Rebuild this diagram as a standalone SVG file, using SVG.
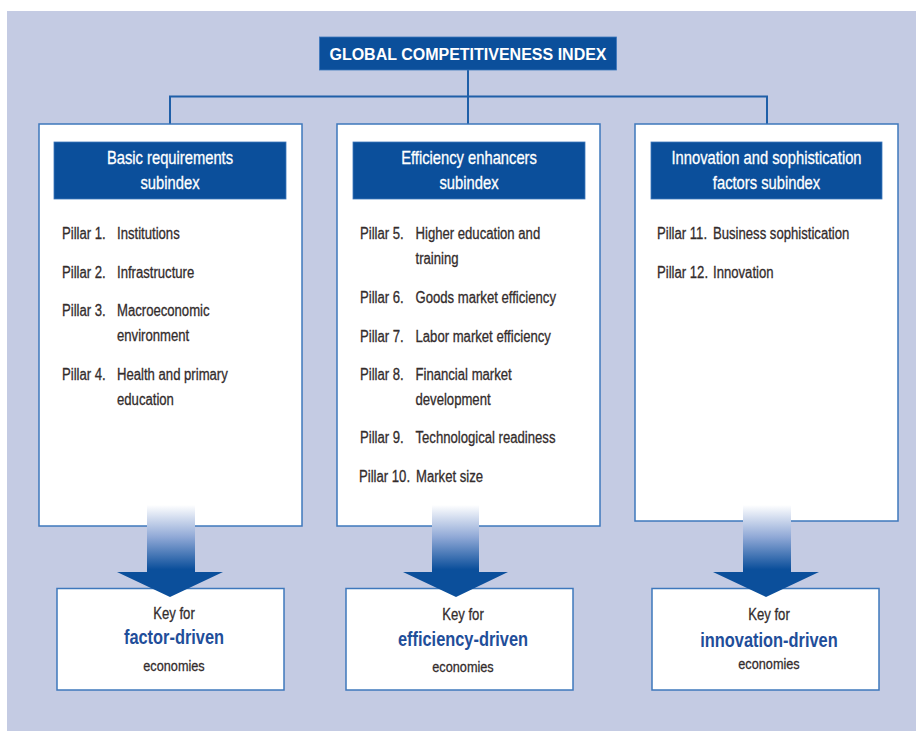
<svg xmlns="http://www.w3.org/2000/svg" width="916" height="731" viewBox="0 0 916 731">
<style>
  .bg{fill:#C4CBE3}
  .box{fill:#FFFFFF;stroke:#3E78BC;stroke-width:1.5}
  .hdr{fill:#0B4F9B;stroke:#3E78BC;stroke-width:0.8}
  .title{font-family:"Liberation Sans",Arial,sans-serif;font-weight:bold;font-size:16px;fill:#FFFFFF}
  .ht{font-family:"Liberation Sans",Arial,sans-serif;font-size:18px;fill:#FFFFFF;stroke:#FFFFFF;stroke-width:0.3;text-anchor:middle}
  .pt{font-family:"Liberation Sans",Arial,sans-serif;font-size:16px;fill:#332C2C;stroke:#332C2C;stroke-width:0.3}
  .kt{font-family:"Liberation Sans",Arial,sans-serif;font-size:16px;fill:#332C2C;stroke:#332C2C;stroke-width:0.3;text-anchor:middle}
  .ke{font-family:"Liberation Sans",Arial,sans-serif;font-size:15.5px;fill:#332C2C;stroke:#332C2C;stroke-width:0.3;text-anchor:middle}
  .kb{font-family:"Liberation Sans",Arial,sans-serif;font-size:20px;font-weight:bold;fill:#1F4E9A;text-anchor:middle}
  .conn{fill:none;stroke:#1F5FA8;stroke-width:2}
  .arrow{fill:url(#grad)}
</style>
<defs>
  <linearGradient id="grad" x1="0" y1="505" x2="0" y2="597" gradientUnits="userSpaceOnUse">
    <stop offset="0" stop-color="#FFFFFF"/>
    <stop offset="0.35" stop-color="#8FA8D6"/>
    <stop offset="0.7" stop-color="#0B4F9B"/>
    <stop offset="1" stop-color="#0B4F9B"/>
  </linearGradient>
</defs>
<rect class="bg" x="7" y="11" width="909" height="720"/>

<g id="connectors">
  <path class="conn" d="M468,70 V96.5 M170,124 V96.5 H767 V124 M468,96.5 V124"/>
</g>

<g id="gci">
  <rect class="hdr" x="319.5" y="37" width="297" height="33"/>
  <text class="title" x="468" y="59.5" text-anchor="middle">GLOBAL COMPETITIVENESS INDEX</text>
</g>

<g id="basic">
  <rect class="box" x="39" y="124" width="263" height="402"/>
  <rect class="hdr" x="54" y="142" width="232" height="57"/>
  <text class="ht" transform="matrix(0.82 0 0 1 170 164)">Basic requirements</text>
  <text class="ht" transform="matrix(0.82 0 0 1 170 189)">subindex</text>
  <text class="pt" transform="matrix(0.82 0 0 1 62 239)">Pillar 1.</text><text class="pt" transform="matrix(0.82 0 0 1 117 239)">Institutions</text>
  <text class="pt" transform="matrix(0.82 0 0 1 62 277.5)">Pillar 2.</text><text class="pt" transform="matrix(0.82 0 0 1 117 277.5)">Infrastructure</text>
  <text class="pt" transform="matrix(0.82 0 0 1 62 316)">Pillar 3.</text><text class="pt" transform="matrix(0.82 0 0 1 117 316)">Macroeconomic</text>
  <text class="pt" transform="matrix(0.82 0 0 1 117 341)">environment</text>
  <text class="pt" transform="matrix(0.82 0 0 1 62 380)">Pillar 4.</text><text class="pt" transform="matrix(0.82 0 0 1 117 380)">Health and primary</text>
  <text class="pt" transform="matrix(0.82 0 0 1 117 405)">education</text>
</g>

<g id="efficiency">
  <rect class="box" x="337" y="124" width="263" height="402"/>
  <rect class="hdr" x="353" y="142" width="232" height="57"/>
  <text class="ht" transform="matrix(0.82 0 0 1 469 164)">Efficiency enhancers</text>
  <text class="ht" transform="matrix(0.82 0 0 1 469 189)">subindex</text>
  <text class="pt" transform="matrix(0.82 0 0 1 360 239)">Pillar 5.</text><text class="pt" transform="matrix(0.82 0 0 1 415.5 239)">Higher education and</text>
  <text class="pt" transform="matrix(0.82 0 0 1 415.5 264)">training</text>
  <text class="pt" transform="matrix(0.82 0 0 1 360 303)">Pillar 6.</text><text class="pt" transform="matrix(0.82 0 0 1 415.5 303)">Goods market efficiency</text>
  <text class="pt" transform="matrix(0.82 0 0 1 360 341.5)">Pillar 7.</text><text class="pt" transform="matrix(0.82 0 0 1 415.5 341.5)">Labor market efficiency</text>
  <text class="pt" transform="matrix(0.82 0 0 1 360 380)">Pillar 8.</text><text class="pt" transform="matrix(0.82 0 0 1 415.5 380)">Financial market</text>
  <text class="pt" transform="matrix(0.82 0 0 1 415.5 405)">development</text>
  <text class="pt" transform="matrix(0.82 0 0 1 360 443)">Pillar 9.</text><text class="pt" transform="matrix(0.82 0 0 1 415.5 443)">Technological readiness</text>
  <text class="pt" transform="matrix(0.82 0 0 1 359 481.5)">Pillar 10.</text><text class="pt" transform="matrix(0.82 0 0 1 416 481.5)">Market size</text>
</g>

<g id="innovation">
  <rect class="box" x="635" y="124" width="263" height="397"/>
  <rect class="hdr" x="651" y="142" width="231" height="57"/>
  <text class="ht" transform="matrix(0.82 0 0 1 766.5 164)">Innovation and sophistication</text>
  <text class="ht" transform="matrix(0.82 0 0 1 766.5 189)">factors subindex</text>
  <text class="pt" transform="matrix(0.82 0 0 1 657 239)">Pillar 11.</text><text class="pt" transform="matrix(0.82 0 0 1 713 239)">Business sophistication</text>
  <text class="pt" transform="matrix(0.82 0 0 1 657 277.5)">Pillar 12.</text><text class="pt" transform="matrix(0.82 0 0 1 713 277.5)">Innovation</text>
</g>

<g id="key-factor">
  <rect class="box" x="57" y="588.5" width="227" height="101.5"/>
  <text class="kt" transform="matrix(0.82 0 0 1 174 619)">Key for</text>
  <text class="kb" transform="matrix(0.82 0 0 1 174 644)">factor-driven</text>
  <text class="ke" transform="matrix(0.82 0 0 1 174 671)">economies</text>
</g>

<g id="key-efficiency">
  <rect class="box" x="346" y="588.5" width="227" height="101.5"/>
  <text class="kt" transform="matrix(0.82 0 0 1 463 619.5)">Key for</text>
  <text class="kb" transform="matrix(0.82 0 0 1 463 646)">efficiency-driven</text>
  <text class="ke" transform="matrix(0.82 0 0 1 463 671.5)">economies</text>
</g>

<g id="key-innovation">
  <rect class="box" x="652" y="588.5" width="227" height="101.5"/>
  <text class="kt" transform="matrix(0.82 0 0 1 769 620)">Key for</text>
  <text class="kb" transform="matrix(0.82 0 0 1 769 646.5)">innovation-driven</text>
  <text class="ke" transform="matrix(0.82 0 0 1 769 669)">economies</text>
</g>

<g id="arrows">
  <polygon class="arrow" points="147,505 195,505 195,572 223,572 170,597 117,572 147,572"/>
  <polygon class="arrow" points="432,505 479,505 479,572 508,572 456,597 403,572 432,572"/>
  <polygon class="arrow" points="743,505 791,505 791,572 819,572 766,597 713,572 743,572"/>
</g>
</svg>
